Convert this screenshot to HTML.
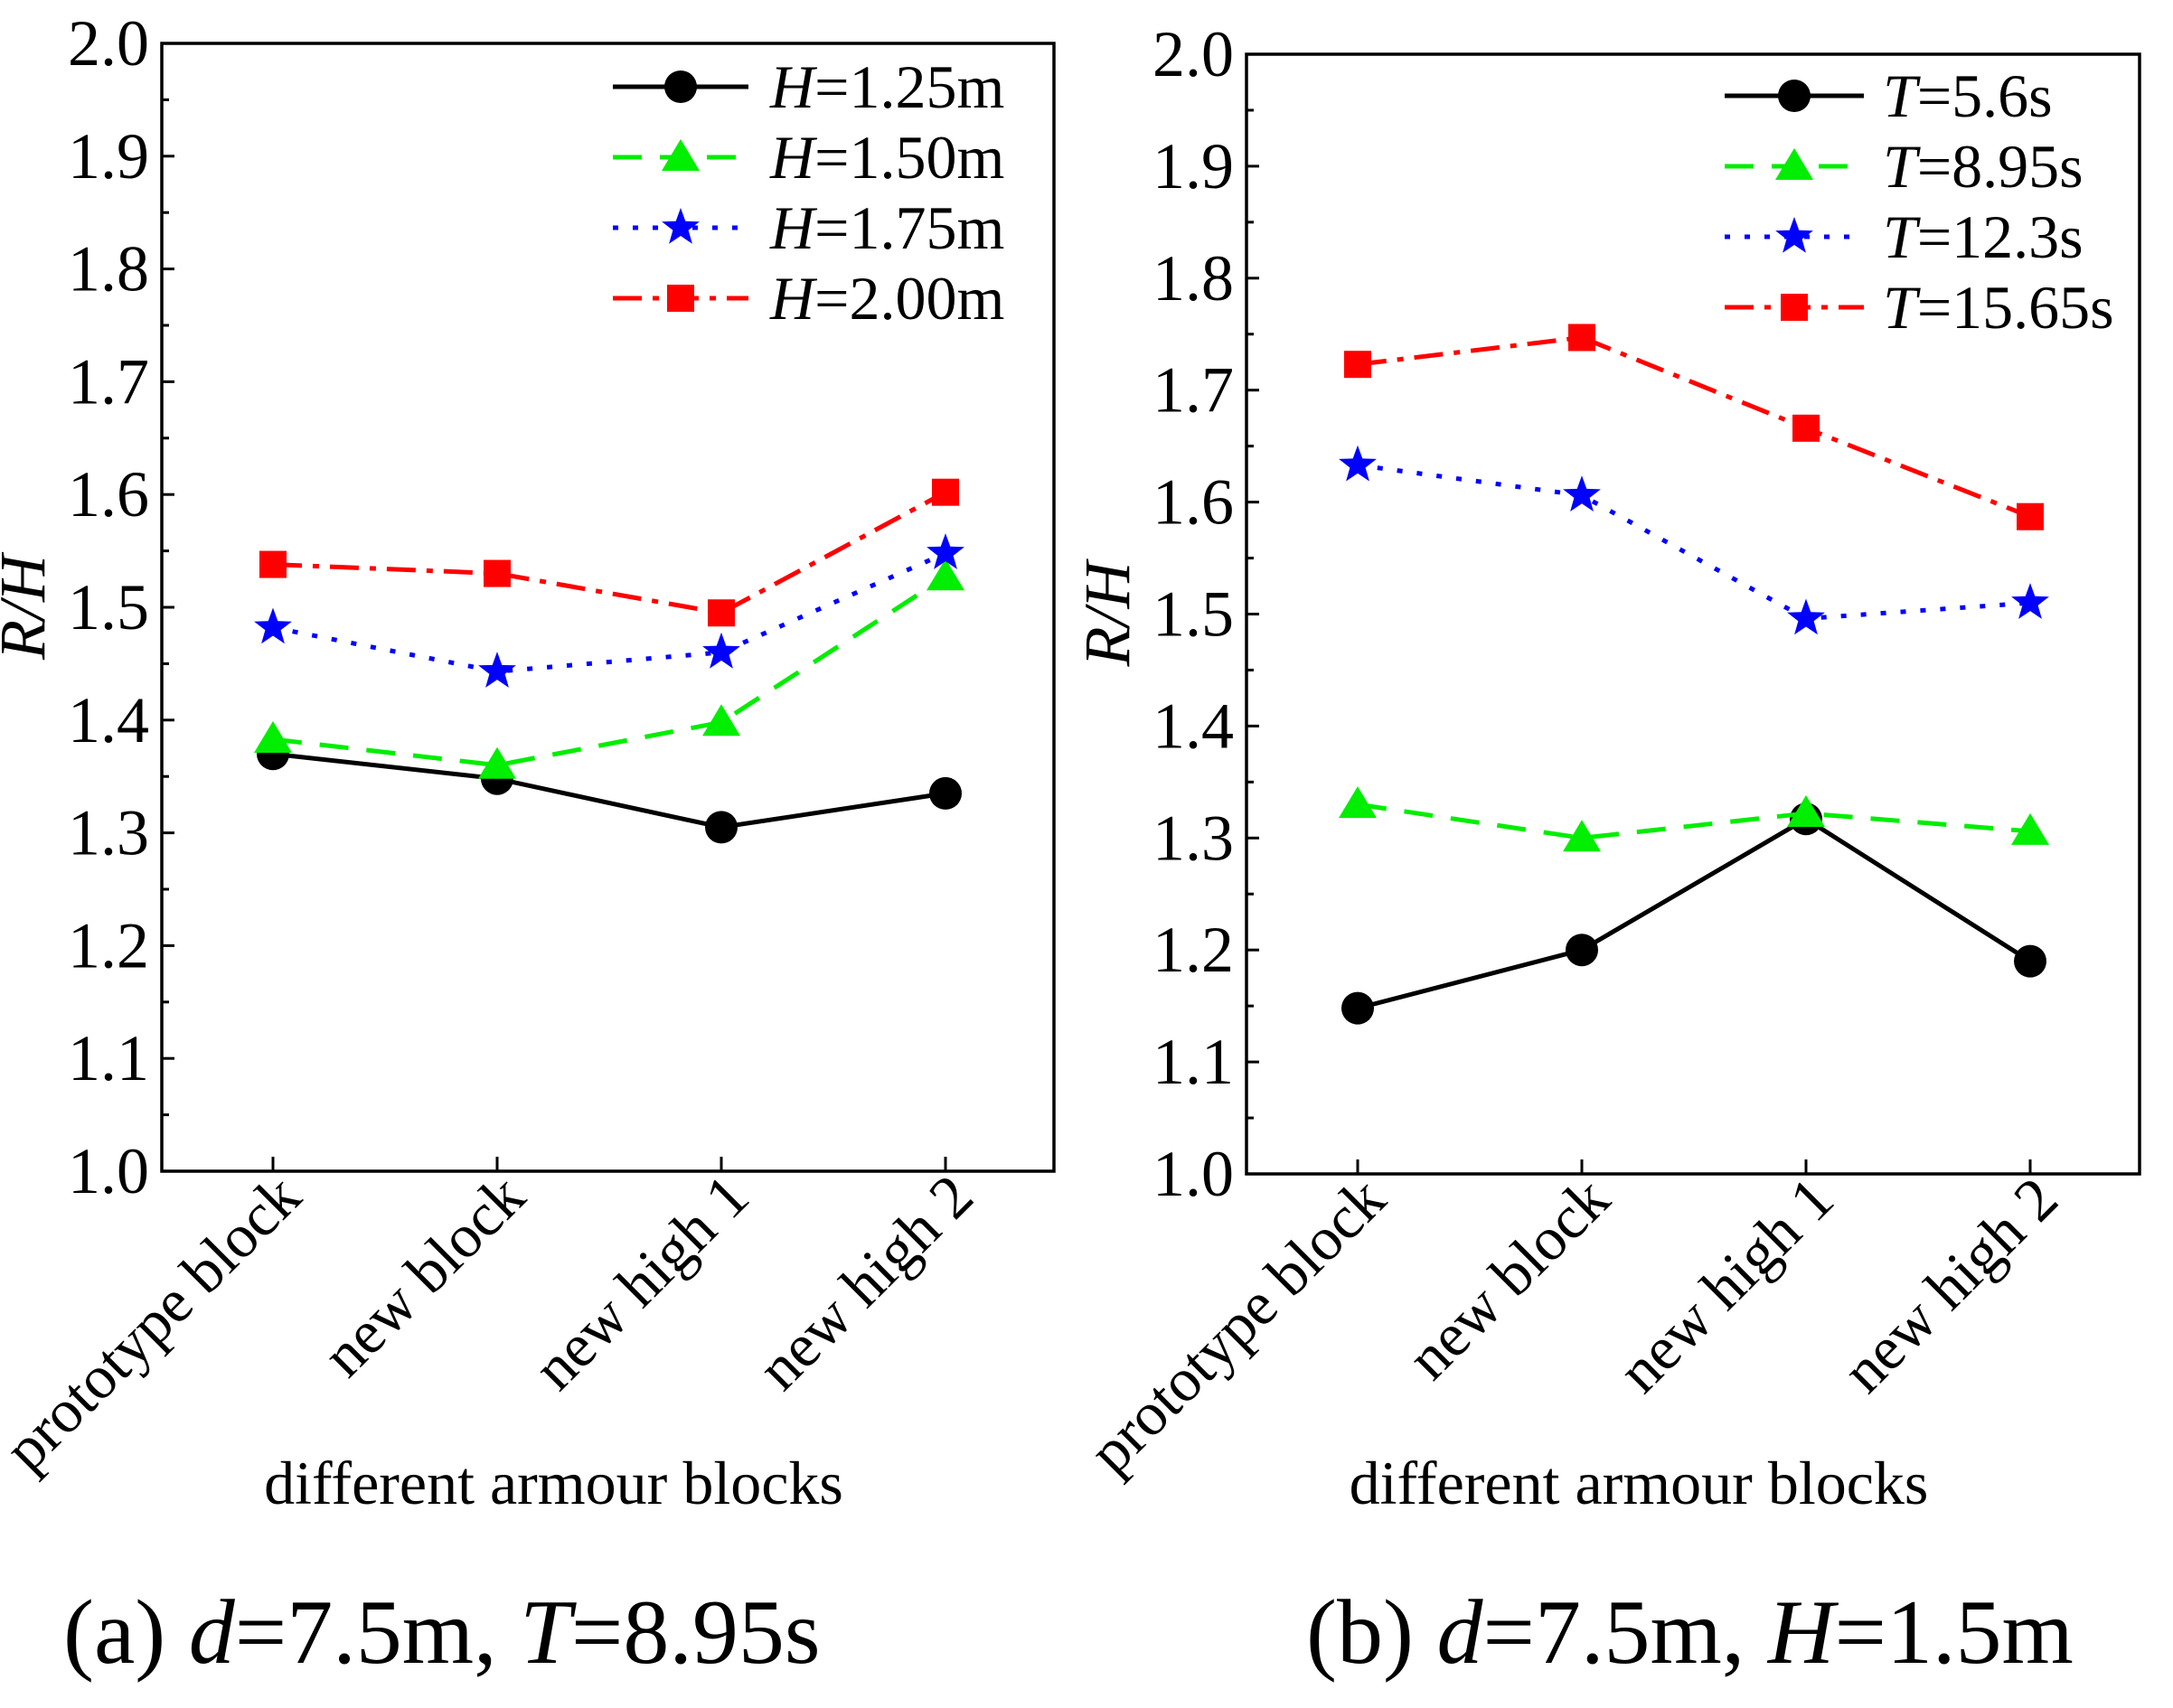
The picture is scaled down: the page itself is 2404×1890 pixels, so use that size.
<!DOCTYPE html>
<html><head><meta charset="utf-8"><style>body{margin:0;background:#fff}svg{display:block}svg text{font-family:"Liberation Serif","DejaVu Serif",serif}</style></head>
<body>
<svg id="fig" width="2404" height="1890" viewBox="0 0 2404 1890" xmlns="http://www.w3.org/2000/svg"></svg>
<script>
const categories = ["prototype block","new block","new high 1","new high 2"];
const yTicks = [1.0,1.1,1.2,1.3,1.4,1.5,1.6,1.7,1.8,1.9,2.0];
const leftNames = ["=1.25m","=1.50m","=1.75m","=2.00m"];
const leftH125 = [1.370,1.348,1.305,1.335];
const leftH150 = [1.383,1.360,1.398,1.527];
const leftH175 = [1.482,1.443,1.460,1.548];
const leftH200 = [1.538,1.530,1.495,1.602];
const rightNames = ["=5.6s","=8.95s","=12.3s","=15.65s"];
const rightT56 = [1.148,1.200,1.317,1.190];
const rightT895 = [1.330,1.300,1.322,1.306];
const rightT123 = [1.633,1.606,1.496,1.510];
const rightT1565 = [1.723,1.747,1.666,1.587];

const NS="http://www.w3.org/2000/svg";
const svg=document.getElementById('fig');
function mk(tag,attrs,parent,name){const e=document.createElementNS(NS,tag);for(const k in attrs)e.setAttribute(k,attrs[k]);(parent||svg).appendChild(e);


return e;}
const styles=[
 {color:"#000",dash:"",marker:"circle"},
 {color:"#00ee00",dash:"32 20",marker:"triangle"},
 {color:"#0000ff",dash:"6 16",marker:"star"},
 {color:"#ff0000",dash:"32 12 7 12",marker:"square"}];
function marker(g,type,x,y,c,name){
 if(type==="circle")mk('circle',{cx:x,cy:y,r:18,fill:c},g,name);
 else if(type==="square")mk('rect',{x:x-15,y:y-15,width:30,height:30,fill:c},g,name);
 else if(type==="triangle")mk('polygon',{points:`${x},${y-20} ${x+21},${y+15} ${x-21},${y+15}`,fill:c},g,name);
 else {let p=[];for(let i=0;i<10;i++){const r=i%2?9:22;const a=-Math.PI/2+i*Math.PI/5;p.push((x+r*Math.cos(a)).toFixed(1)+","+(y+r*Math.sin(a)).toFixed(1));}
   mk('polygon',{points:p.join(" "),fill:c},g,name);}
}
function panel(id,L,R,T,B,series,names,sym,leg,caption,capX){
 const g=mk('g',{},svg,id);
 const cx=i=>L+123+i*248;
 const sy=v=>B-(v-1.0)/(1.0)*(B-T);
 for(let k=0;k<=20;k++){const y=B-k*(B-T)/20;const len=k%2===0?14:8;
   mk('line',{x1:L,y1:y,x2:L+len,y2:y,stroke:"#000","stroke-width":3},g,'y-tick');}
 yTicks.forEach(v=>{const t=mk('text',{x:L-14,y:sy(v)+24,"font-size":72,"text-anchor":"end"},g,'y-tick-label');t.textContent=v.toFixed(1);});
 categories.forEach((c,i)=>{mk('line',{x1:cx(i),y1:B,x2:cx(i),y2:B-16,stroke:"#000","stroke-width":3},g,'x-tick');
   const t=mk('text',{x:cx(i)+34,y:B+32,"font-size":68,"text-anchor":"end",transform:`rotate(-45 ${cx(i)+34} ${B+32})`},g,'x-tick-label');t.textContent=c;});
 series.forEach((vals,si)=>{const st=styles[si];const sg=mk('g',{},g,'series-'+names[si].replace(/[=.]/g,''));
   mk('polyline',{points:vals.map((v,i)=>cx(i)+","+sy(v)).join(" "),fill:"none",stroke:st.color,"stroke-width":5,"stroke-dasharray":st.dash},sg,'series-line');
   vals.forEach((v,i)=>marker(sg,st.marker,cx(i),sy(v),st.color,'data-point'));});
 mk('rect',{x:L,y:T,width:R-L,height:B-T,fill:"none",stroke:"#000","stroke-width":3.5},g,'plot-frame');
 const lg=mk('g',{},g,'legend');
 names.forEach((n,i)=>{const y=leg.y0+i*leg.dy;const st=styles[i];
  const e=mk('g',{},lg,'legend-entry');
  mk('line',{x1:leg.x1,y1:y,x2:leg.x2,y2:y,stroke:st.color,"stroke-width":5,"stroke-dasharray":st.dash},e,'legend-line');
  marker(e,st.marker,(leg.x1+leg.x2)/2,y,st.color,'legend-marker');
  const t=mk('text',{x:leg.tx,y:y+23,"font-size":68},e,'legend-label');
  t.innerHTML=`<tspan font-style="italic">${sym}</tspan>${n}`;});
 const yt=mk('text',{x:0,y:0,"font-size":72,"font-style":"italic","text-anchor":"middle",transform:`translate(${L-130},${(T+B)/2}) rotate(-90)`},g,'y-axis-title');yt.textContent="R/H";
 const xt=mk('text',{x:(L+R)/2-60,y:1664,"font-size":68,"text-anchor":"middle"},g,'x-axis-title');xt.textContent="different armour blocks";
 const cp=mk('text',{x:capX,y:1840,"font-size":102},g,'caption');cp.innerHTML=caption;
}
panel('left-panel',179,1166,48,1296,[leftH125,leftH150,leftH175,leftH200],leftNames,"H",
 {x1:678,x2:828,tx:852,y0:96,dy:78},'(a) <tspan font-style="italic">d</tspan>=7.5m, <tspan font-style="italic">T</tspan>=8.95s',70);
panel('right-panel',1379,2367,60,1299,[rightT56,rightT895,rightT123,rightT1565],rightNames,"T",
 {x1:1908,x2:2062,tx:2083,y0:106,dy:78},'(b) <tspan font-style="italic">d</tspan>=7.5m, <tspan font-style="italic">H</tspan>=1.5m',1445);
</script>
</body></html>
